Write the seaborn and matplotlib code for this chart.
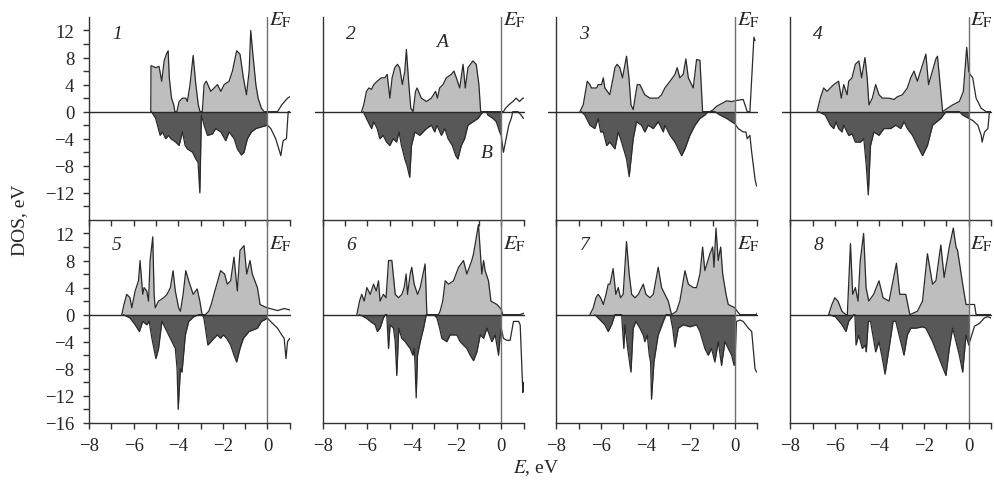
import numpy as np
import pandas as pd
import seaborn as sns
import matplotlib.pyplot as plt
from matplotlib.ticker import MultipleLocator

# DOS curves, as (E, DOS) pairs; up = spin A, dn = spin B
up1 = [(-5.23, 0), (-5.22, 6.8), (-5.0, 6.5), (-4.86, 6.7), (-4.74, 4.5), (-4.63, 7.5), (-4.53, 8.5), (-4.45, 9.0),
       (-4.4, 5.0), (-4.3, 2.0), (-4.2, 1.0), (-4.15, 0), (-4.06, 0), (-3.96, 1.5), (-3.8, 2.0), (-3.66, 2.0),
       (-3.59, 1.5), (-3.47, 4.0), (-3.33, 8.3), (-3.21, 4.0), (-3.1, 1.0), (-3.02, 0), (-2.92, 0), (-2.84, 4.0),
       (-2.74, 4.5), (-2.54, 3.0), (-2.39, 3.5), (-2.24, 4.0), (-2.09, 3.0), (-1.94, 4.0), (-1.72, 4.5), (-1.57, 6.0),
       (-1.38, 9.0), (-1.23, 8.5), (-1.08, 5.0), (-0.94, 2.5), (-0.82, 6.0), (-0.75, 12.0), (-0.64, 8.0), (-0.52, 4.0),
       (-0.42, 2.0), (-0.27, 0.5), (-0.15, 0), (0, 0), (0.45, 0), (0.64, 1.0), (0.9, 2.0), (1.0, 2.2)]
dn1 = [(-5.2, 0), (-5.01, -1), (-4.93, -2), (-4.81, -3.5), (-4.71, -3), (-4.56, -4), (-4.44, -3.5), (-4.33, -4),
       (-4.11, -4.5), (-3.96, -5), (-3.81, -3), (-3.69, -5), (-3.59, -5.5), (-3.36, -6), (-3.21, -7), (-3.11, -7.5),
       (-3.03, -12), (-2.96, -0.5), (-2.84, -2), (-2.69, -3.5), (-2.47, -3.3), (-2.32, -2.5), (-2.09, -3), (-1.87, -4.3),
       (-1.72, -3), (-1.49, -4), (-1.35, -5.5), (-1.17, -6.4), (-1.05, -6), (-0.9, -4), (-0.72, -3), (-0.52, -2.5),
       (-0.22, -2.2), (0, -2), (0.15, -2.5), (0.37, -4), (0.6, -6.5), (0.7, -4.3), (0.85, -4), (0.93, 0), (1.0, 0)]

up2 = [(-6.26, 0), (-6.16, 1), (-6.04, 3), (-5.93, 3.5), (-5.81, 3.3), (-5.71, 4), (-5.56, 4.5), (-5.37, 5), (-5.22, 5),
       (-5.11, 5.5), (-4.99, 2), (-4.89, 5), (-4.77, 6.5), (-4.65, 7), (-4.55, 6.5), (-4.43, 4), (-4.32, 6), (-4.25, 9.2),
       (-4.14, 4), (-4.05, 0.5), (-3.95, 0), (-3.84, 3), (-3.77, 3.5), (-3.58, 2), (-3.35, 1.5), (-3.13, 2), (-2.94, 3),
       (-2.86, 2), (-2.76, 3.5), (-2.61, 4), (-2.46, 5), (-2.24, 5.5), (-2.12, 6), (-2.01, 5), (-1.86, 3.5), (-1.71, 7),
       (-1.61, 3.5), (-1.49, 6.5), (-1.27, 7.5), (-1.12, 7), (-1.0, 4), (-0.92, 0), (0, 0), (0.1, 0), (0.19, 0.5),
       (0.34, 1), (0.52, 1.5), (0.67, 2), (0.82, 1.5), (0.97, 2), (1.0, 2)]
dn2 = [(-6.18, 0), (-6.04, -1), (-5.89, -2), (-5.81, -2.5), (-5.71, -1.5), (-5.56, -2.5), (-5.44, -4), (-5.29, -3.5),
       (-5.14, -4.5), (-4.99, -5), (-4.84, -4), (-4.69, -4.5), (-4.58, -3), (-4.47, -5), (-4.32, -7), (-4.22, -8),
       (-4.1, -9.7), (-4.02, -5), (-3.87, -3), (-3.65, -3.5), (-3.35, -2.5), (-3.13, -2), (-2.98, -3), (-2.88, -2),
       (-2.68, -3.5), (-2.53, -2.5), (-2.38, -4), (-2.19, -5), (-2.04, -6.5), (-1.94, -7), (-1.79, -5), (-1.64, -4),
       (-1.49, -2), (-1.27, -1.5), (-1.04, -1), (-0.89, -0.3), (-0.79, 0), (-0.67, 0), (-0.6, -0.5), (-0.37, -1),
       (-0.22, -1.5), (-0.07, -3), (0, -3.5), (0.1, -6), (0.22, -4), (0.34, -2), (0.45, -1), (0.52, 0), (0.75, 0),
       (0.89, -0.5), (1.0, -1)]

up3 = [(-6.95, 0), (-6.8, 1), (-6.62, 4.5), (-6.5, 4), (-6.43, 3.5), (-6.2, 3.5), (-6.13, 4), (-5.98, 4), (-5.9, 5),
       (-5.83, 3.5), (-5.61, 2.5), (-5.46, 5), (-5.38, 6.5), (-5.28, 7), (-5.16, 6.5), (-5.04, 5), (-4.86, 8.2),
       (-4.75, 5), (-4.66, 1), (-4.56, 0.3), (-4.48, 2), (-4.38, 4), (-4.26, 4), (-4.04, 2.5), (-3.81, 2), (-3.44, 2),
       (-3.29, 2.5), (-3.14, 3.5), (-2.91, 4.5), (-2.69, 5.5), (-2.59, 6.5), (-2.47, 5), (-2.32, 5.5), (-2.2, 7.8),
       (-2.09, 5), (-1.87, 3.5), (-1.72, 7.7), (-1.57, 7.6), (-1.45, 0), (-1.12, 0), (-0.97, 0.3), (-0.82, 0.8),
       (-0.6, 1.2), (-0.37, 1.6), (-0.15, 1.5), (0, 1.6), (0.15, 1.7), (0.37, 1.8), (0.55, 0), (0.67, 0), (0.85, 11),
       (0.9, 10.5)]
dn3 = [(-6.88, 0), (-6.73, -0.5), (-6.5, -2), (-6.28, -2.5), (-6.13, -1), (-6.02, -3), (-5.9, -3), (-5.75, -5),
       (-5.61, -4.5), (-5.38, -5.5), (-5.23, -3), (-5.08, -4.5), (-4.86, -7), (-4.74, -9.6), (-4.56, -4), (-4.41, -1.5),
       (-4.19, -2), (-4.04, -3), (-3.89, -2), (-3.66, -2.5), (-3.44, -1.5), (-3.21, -3), (-3.14, -2), (-2.91, -3.5),
       (-2.69, -4.5), (-2.39, -6.5), (-2.24, -5.5), (-2.02, -3.5), (-1.79, -2), (-1.57, -1), (-1.35, -0.5), (-1.2, 0),
       (-0.9, 0), (-0.67, -0.5), (-0.37, -1), (-0.15, -1.5), (0, -1.8), (0.15, -2.5), (0.37, -3), (0.49, -3),
       (0.55, -4), (0.67, -3.5), (0.75, -6), (0.9, -10), (0.97, -11)]

up4 = [(-6.8, 0), (-6.65, 2), (-6.5, 3.5), (-6.35, 3), (-6.2, 3.5), (-6.05, 4), (-5.83, 4.5), (-5.71, 2), (-5.6, 4),
       (-5.45, 2.5), (-5.38, 4.5), (-5.23, 5), (-5.08, 7), (-4.92, 7.5), (-4.8, 5), (-4.65, 8), (-4.55, 5), (-4.47, 1),
       (-4.32, 2), (-4.17, 4), (-4.02, 2.5), (-3.87, 2), (-3.57, 2), (-3.35, 1.8), (-3.2, 2.2), (-2.97, 2.5),
       (-2.75, 3.5), (-2.6, 5), (-2.45, 6), (-2.3, 4.5), (-1.92, 8.5), (-1.8, 4), (-1.47, 7.8), (-1.4, 8.2), (-1.28, 4),
       (-1.17, 0), (-0.95, 0.5), (-0.72, 1), (-0.42, 1.5), (-0.24, 3), (-0.09, 9.5), (0, 6), (0.06, 5.5), (0.18, 5),
       (0.33, 2), (0.56, 0.5), (0.78, 0), (1.0, 0)]
dn4 = [(-6.73, 0), (-6.43, -0.5), (-6.2, -2), (-6.05, -2.5), (-5.95, -1.5), (-5.83, -2.5), (-5.68, -3), (-5.6, -2),
       (-5.38, -3.5), (-5.23, -3.3), (-5.08, -4.5), (-4.85, -4.5), (-4.7, -4), (-4.59, -8), (-4.5, -12.3), (-4.4, -5),
       (-4.25, -3), (-4.02, -3.5), (-3.8, -2.5), (-3.5, -2.5), (-3.27, -2), (-3.05, -2.5), (-2.9, -1.5), (-2.75, -2.5),
       (-2.52, -3.5), (-2.3, -5), (-2.07, -6.5), (-1.85, -5), (-1.62, -2), (-1.25, -1), (-1.02, 0), (-0.42, 0),
       (-0.27, -0.5), (0, -1), (0.18, -1.3), (0.41, -2), (0.56, -3.5), (0.6, -4.5), (0.71, -3), (0.86, -2.5),
       (0.93, 0), (1.0, 0)]

up5 = [(-6.53, 0), (-6.43, 1.5), (-6.31, 3), (-6.16, 2.5), (-6.08, 1), (-5.93, 3.5), (-5.78, 5), (-5.71, 8),
       (-5.59, 3), (-5.53, 4), (-5.41, 3.5), (-5.33, 2), (-5.26, 8), (-5.14, 11.5), (-5.08, 3), (-5.03, 1), (-4.88, 2),
       (-4.65, 2.5), (-4.5, 3), (-4.35, 4), (-4.23, 6.5), (-4.13, 3.5), (-3.98, 1), (-3.9, 0.5), (-3.78, 3),
       (-3.66, 6.5), (-3.53, 5), (-3.33, 3), (-3.15, 3.8), (-3.03, 2), (-2.93, 0), (-2.78, 0), (-2.63, 0.5),
       (-2.52, 1.5), (-2.4, 3), (-2.1, 6.5), (-1.92, 6), (-1.8, 4.5), (-1.65, 5), (-1.5, 8.5), (-1.35, 3.5),
       (-1.23, 9.5), (-1.05, 10.2), (-0.93, 6), (-0.78, 8), (-0.68, 6), (-0.45, 4), (-0.33, 1.5), (-0.15, 1.2),
       (0, 1), (0.23, 0.8), (0.45, 0.6), (0.75, 0.9), (1.0, 0.7)]
dn5 = [(-6.46, 0), (-6.16, -0.5), (-5.93, -1.5), (-5.74, -2.5), (-5.59, -1), (-5.41, -1.5), (-5.3, -1), (-5.18, -3.5),
       (-5.0, -6.5), (-4.88, -5), (-4.73, -1), (-4.58, -2), (-4.43, -3), (-4.28, -4), (-4.13, -5), (-4.05, -8),
       (-4.0, -14), (-3.9, -8), (-3.83, -8.5), (-3.68, -3), (-3.53, -1), (-3.3, -0.3), (-3.08, 0), (-2.93, 0),
       (-2.85, -0.5), (-2.78, -2), (-2.67, -4.5), (-2.4, -3.5), (-2.25, -3), (-2.1, -3.5), (-1.98, -3), (-1.83, -3.5),
       (-1.65, -4.5), (-1.5, -6), (-1.38, -7), (-1.23, -5), (-1.08, -3.5), (-0.83, -2.5), (-0.45, -2), (-0.27, -1),
       (-0.15, -0.8), (0, -0.5), (0.08, -0.8), (0.23, -1.3), (0.45, -2), (0.64, -3), (0.75, -3.5), (0.83, -6.5),
       (0.9, -4), (1.0, -3.5)]

up6 = [(-6.47, 0), (-6.35, 2), (-6.25, 3), (-6.14, 2), (-6.02, 4), (-5.87, 3), (-5.72, 4.5), (-5.6, 3.5), (-5.5, 5),
       (-5.43, 2), (-5.28, 3), (-5.16, 2.5), (-5.05, 8), (-4.9, 8), (-4.75, 3), (-4.6, 2.5), (-4.45, 3), (-4.35, 4),
       (-4.26, 6), (-4.2, 3), (-4.08, 6), (-4.01, 7), (-3.9, 4.5), (-3.75, 3), (-3.63, 4), (-3.41, 7.5), (-3.33, 0),
       (-2.81, 0), (-2.74, 0.5), (-2.62, 2), (-2.51, 5), (-2.36, 4.5), (-2.14, 5), (-1.91, 7), (-1.69, 8), (-1.54, 6),
       (-1.32, 8), (-1.24, 9), (-1.02, 13.3), (-0.87, 6), (-0.79, 8), (-0.72, 6.5), (-0.57, 5), (-0.46, 2),
       (-0.19, 1.5), (0, 0.8), (0.07, 0), (0.85, 0), (1.0, 0.2)]
dn6 = [(-6.35, 0), (-6.05, -0.5), (-5.87, -1), (-5.65, -1.5), (-5.55, -2.5), (-5.43, -2), (-5.28, -0.5), (-5.2, 0),
       (-5.13, 0), (-5.05, -5), (-4.98, -1.5), (-4.83, -2), (-4.75, -4), (-4.68, -9), (-4.59, -2), (-4.46, -3.5),
       (-4.3, -4), (-4.2, -4.5), (-4.08, -5), (-3.96, -6), (-3.9, -5), (-3.86, -7.5), (-3.81, -12.3), (-3.75, -6),
       (-3.63, -4), (-3.48, -2), (-3.36, 0), (-3.03, 0), (-2.88, -0.5), (-2.76, -2), (-2.66, -3.5), (-2.44, -4),
       (-2.29, -3), (-1.99, -3), (-1.84, -4), (-1.54, -5), (-1.39, -6), (-1.24, -6.8), (-1.09, -5.5), (-0.94, -3),
       (-0.79, -3.5), (-0.64, -2), (-0.42, -4), (-0.27, -3), (-0.12, -6), (-0.04, -3), (0, -2), (0.1, -3.5),
       (0.25, -3.8), (0.4, -3.8), (0.55, -1), (0.78, -1), (0.85, -1.5), (0.97, -11.5), (1.0, -10)]

up7 = [(-6.5, 0), (-6.35, 1), (-6.23, 2.5), (-6.13, 3), (-6.02, 2.5), (-5.9, 1.5), (-5.78, 3), (-5.68, 4.5),
       (-5.6, 4.5), (-5.46, 6.8), (-5.34, 3), (-5.23, 4), (-5.13, 2.5), (-5.01, 3), (-4.86, 10.8), (-4.74, 6),
       (-4.63, 3), (-4.48, 2.5), (-4.33, 3), (-4.11, 4.5), (-3.99, 3), (-3.81, 2.5), (-3.66, 3), (-3.44, 7),
       (-3.29, 4), (-3.14, 3), (-2.99, 2), (-2.84, 0), (-2.62, 0.5), (-2.47, 2), (-2.24, 6.5), (-2.09, 4.5),
       (-1.87, 4), (-1.72, 4), (-1.57, 6), (-1.45, 10), (-1.35, 6.5), (-1.12, 9), (-1.0, 10), (-0.94, 7),
       (-0.85, 12.8), (-0.75, 8), (-0.64, 10), (-0.55, 6), (-0.4, 3), (-0.3, 1.5), (0, 1), (0.1, 0.5), (0.22, 0),
       (0.97, 0), (1.0, 0.3)]
dn7 = [(-6.28, 0), (-6.13, -0.5), (-5.83, -1.5), (-5.68, -2.5), (-5.53, -1.5), (-5.38, 0), (-5.08, 0), (-4.98, -5),
       (-4.93, -1.5), (-4.81, -5), (-4.66, -8.5), (-4.56, -2), (-4.44, -1), (-4.26, -2), (-4.11, -3), (-4.04, -4),
       (-3.93, -3), (-3.84, -6), (-3.78, -7), (-3.74, -12.5), (-3.63, -7), (-3.44, -3), (-3.21, -1), (-3.09, 0),
       (-2.91, 0), (-2.79, -2), (-2.69, -4.8), (-2.54, -2), (-2.32, -1.5), (-2.02, -1.8), (-1.72, -1.5), (-1.57, -2.5),
       (-1.35, -5), (-1.2, -6), (-1.05, -5), (-0.9, -7), (-0.75, -4), (-0.6, -7.5), (-0.45, -4), (-0.15, -6),
       (-0.04, -7.5), (0, -7), (0.07, -1), (0.22, -0.8), (0.37, -1), (0.6, -2), (0.75, -2.5), (0.9, -8), (0.97, -8.5)]

up8 = [(-6.28, 0), (-6.13, 1.5), (-6.0, 2.5), (-5.86, 2), (-5.68, 0.5), (-5.5, 0), (-5.44, 0), (-5.3, 10.5), (-5.2, 3),
       (-5.08, 4), (-4.96, 2), (-4.86, 8), (-4.71, 12), (-4.6, 4), (-4.48, 2), (-4.26, 3), (-4.02, 5), (-3.84, 2.5),
       (-3.57, 2), (-3.24, 7.6), (-3.09, 3), (-2.82, 3), (-2.64, 0), (-2.3, 0.5), (-2.07, 2), (-1.85, 9), (-1.62, 4.5),
       (-1.47, 5), (-1.25, 10.3), (-1.1, 5.5), (-0.87, 10), (-0.69, 12.8), (-0.57, 10), (-0.5, 9.5), (-0.27, 4.5),
       (-0.12, 1.5), (0, 1.5), (0.26, 1.5), (0.33, 0), (1.0, 0)]
dn8 = [(-6.28, 0), (-5.98, -0.3), (-5.68, -1.5), (-5.5, -2.5), (-5.38, -1), (-5.15, 0), (-5.1, 0), (-5.05, -4.5),
       (-4.93, -3), (-4.77, -5), (-4.62, -4.5), (-4.59, -5.5), (-4.5, -1), (-4.4, -1), (-4.17, -5.5), (-4.02, -4),
       (-3.87, -6.5), (-3.75, -8.8), (-3.57, -5), (-3.39, -1), (-3.27, -1), (-3.12, -3), (-2.9, -6), (-2.75, -3),
       (-2.6, -2), (-2.37, -2), (-2.07, -1.8), (-1.92, -2), (-1.62, -4), (-1.32, -6.5), (-1.02, -9), (-0.87, -5),
       (-0.72, -2), (-0.42, -6), (-0.27, -8.5), (-0.12, -3), (0, -4.5), (0.26, -1.7), (0.48, -1.3), (0.7, -0.5),
       (0.85, -0.3), (1.0, -0.5)]

panel_labels = ["1", "2", "3", "4", "5", "6", "7", "8"]
curves = [(up1, dn1), (up2, dn2), (up3, dn3), (up4, dn4),
          (up5, dn5), (up6, dn6), (up7, dn7), (up8, dn8)]

rows = []
for i, (up, dn) in enumerate(curves):
    for spin, pts in (("A", up), ("B", dn)):
        for e, v in pts:
            rows.append({"panel": i, "spin": spin, "E": e, "DOS": v})
df = pd.DataFrame(rows)

sns.set_style("ticks")
plt.rcParams["font.family"] = ["Liberation Serif", "DejaVu Serif"]
plt.rcParams["mathtext.fontset"] = "stix"
plt.rcParams["axes.linewidth"] = 1.0

light = "#bebebe"
dark = "#585858"
edge = "#2a2a2a"

fig, axes = plt.subplots(2, 4, figsize=(9.95, 4.85), dpi=100)
fig.subplots_adjust(left=0.0894, right=0.996, top=0.963, bottom=0.126, wspace=0.164, hspace=0)

for i, ax in enumerate(axes.ravel()):
    row, col = divmod(i, 4)
    # transparent background so the upper panels' ticks are not hidden
    ax.set_facecolor("none")
    sub = df[df.panel == i]
    for spin, fc in (("A", light), ("B", dark)):
        s = sub[sub.spin == spin]
        e = s.E.to_numpy()
        v = s.DOS.to_numpy()
        ax.fill_between(e, 0, v, where=e <= 0, color=fc, lw=0, zorder=1)
    sns.lineplot(data=sub, x="E", y="DOS", units="spin", estimator=None, sort=False,
                 color=edge, lw=0.9, ax=ax, zorder=2)
    ax.set(xlabel="", ylabel="")

    # zero line and Fermi level
    x0 = -0.04 if (row == 0 and col > 0) else 0
    ax.axhline(0, xmin=x0, color=edge, lw=1.0, clip_on=False, zorder=3)
    ax.axvline(0, color="#707070", lw=1.0, zorder=3)

    ax.set_xlim(-8, 1)
    ax.set_ylim(-16, 14)
    ax.xaxis.set_major_locator(MultipleLocator(2))
    ax.xaxis.set_minor_locator(MultipleLocator(1))
    if row == 0:
        ax.set_yticks([-12, -8, -4, 0, 4, 8, 12])
    else:
        ax.set_yticks([-16, -12, -8, -4, 0, 4, 8, 12])
    ax.set_yticks([-14, -10, -6, -2, 2, 6, 10], minor=True)

    for side in ("top", "right"):
        ax.spines[side].set_visible(False)
    for side in ("left", "bottom"):
        ax.spines[side].set_color("#333333")

    ax.tick_params(axis="both", which="both", direction="out", length=4.5, width=1.0,
                   color="#333333", labelsize=13.5, pad=6)
    ax.tick_params(axis="x", labelbottom=(row == 1))
    if col > 0:
        ax.tick_params(axis="y", which="both", left=False, labelleft=False)

    ax.text(-6.75, 11.6 if row == 0 else 10.4, panel_labels[i], style="italic",
            fontsize=14, va="center", ha="center")
    ax.text(0.08, 13.6 if row == 0 else 10.5, r"$E_\mathrm{F}$", fontsize=15,
            va="center", ha="left", clip_on=False)

axes[0, 1].text(-2.65, 10.4, "A", style="italic", fontsize=14, ha="center", va="center")
axes[0, 1].text(-0.67, -6.0, "B", style="italic", fontsize=14, ha="center", va="center")

fig.text(0.02, 0.546, "DOS, eV", rotation=90, fontsize=14, ha="center", va="center")
fig.text(0.539, 0.035, r"$E$, eV", fontsize=14, ha="center", va="center")

fig.savefig("out.png", dpi=100)
